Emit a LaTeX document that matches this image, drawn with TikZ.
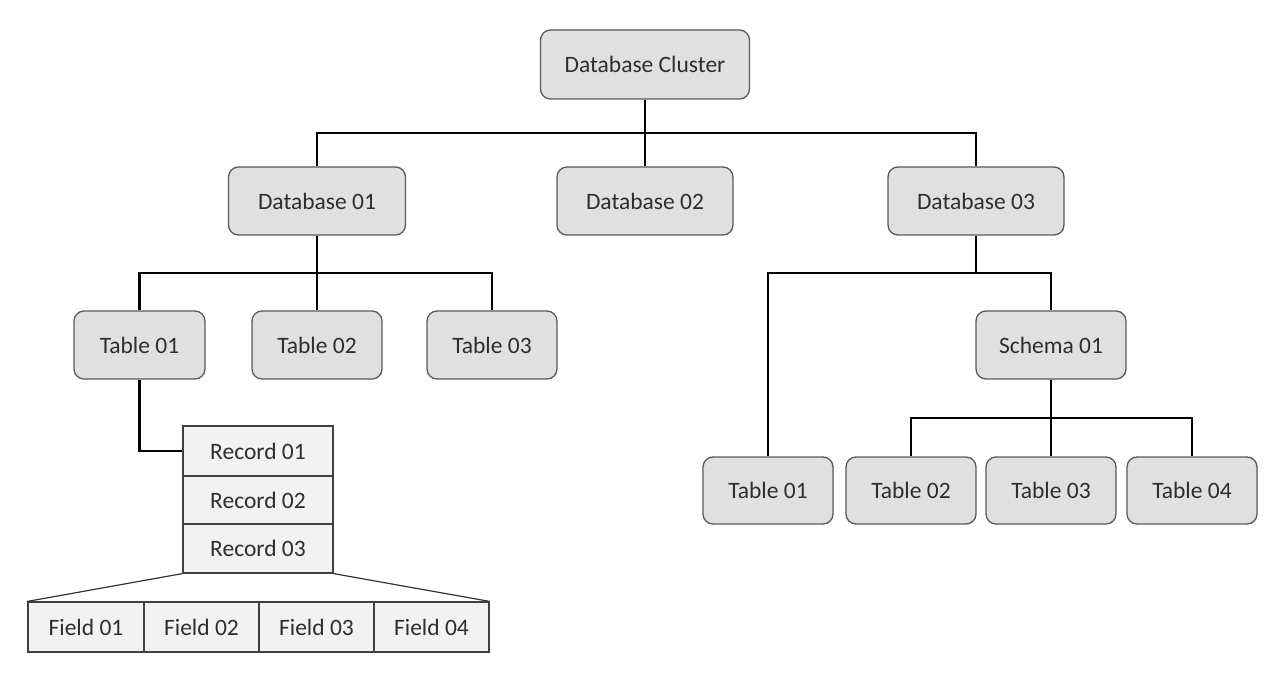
\documentclass[tikz,border=0pt]{standalone}
\usepackage{fontspec}
\setmainfont{Carlito}
\begin{document}
\begin{tikzpicture}[x=1pt,y=-1pt,
  rbox/.style={draw=black!65,line width=1.3pt,fill=black!12,rounded corners=10pt,inner sep=0pt,font=\fontsize{23.5}{26}\selectfont,text=black!82},
  cell/.style={draw=black!75,line width=1.2pt,fill=black!5,inner sep=0pt,font=\fontsize{23.5}{26}\selectfont,text=black!82},
  conn/.style={line width=2.8pt,black},
  thin/.style={line width=1.2pt,black!80}]
\useasboundingbox (0,0) rectangle (1280,674);
% nodes
\node[rbox,minimum width=209pt,minimum height=69pt] (dc) at (645,64.5) {Database Cluster};
\node[rbox,minimum width=177pt,minimum height=68pt] (db1) at (317,201) {Database 01};
\node[rbox,minimum width=176pt,minimum height=68pt] (db2) at (645,201) {Database 02};
\node[rbox,minimum width=176pt,minimum height=68pt] (db3) at (976,201) {Database 03};
\node[rbox,minimum width=131pt,minimum height=68pt] (t1) at (139.5,345) {Table 01};
\node[rbox,minimum width=130pt,minimum height=68pt] (t2) at (317,345) {Table 02};
\node[rbox,minimum width=130pt,minimum height=68pt] (t3) at (492,345) {Table 03};
\node[rbox,minimum width=150pt,minimum height=68pt] (s1) at (1051,345) {Schema 01};
\node[rbox,minimum width=130pt,minimum height=67pt] (r1) at (768,490.5) {Table 01};
\node[rbox,minimum width=130pt,minimum height=67pt] (r2) at (911,490.5) {Table 02};
\node[rbox,minimum width=130pt,minimum height=67pt] (r3) at (1051,490.5) {Table 03};
\node[rbox,minimum width=130pt,minimum height=67pt] (r4) at (1192,490.5) {Table 04};
% records
\node[cell,minimum width=150pt,minimum height=50pt] (rec1) at (258,451) {Record 01};
\node[cell,minimum width=150pt,minimum height=48pt] (rec2) at (258,500) {Record 02};
\node[cell,minimum width=150pt,minimum height=49pt] (rec3) at (258,548.5) {Record 03};
% fields
\node[cell,minimum width=116pt,minimum height=50pt] (f1) at (86,627) {Field 01};
\node[cell,minimum width=115pt,minimum height=50pt] (f2) at (201.5,627) {Field 02};
\node[cell,minimum width=115pt,minimum height=50pt] (f3) at (316.5,627) {Field 03};
\node[cell,minimum width=115pt,minimum height=50pt] (f4) at (431.5,627) {Field 04};
% connectors
\coordinate (b0) at (645,133);
\coordinate (b1) at (317,273);
\coordinate (b2) at (976,273);
\coordinate (b3) at (1051,418);
\draw[conn] (dc.south) -- (b0);
\draw[conn] (db1.north) |- (b0) -| (db3.north);
\draw[conn] (db2.north) -- (b0);
\draw[conn] (db1.south) -- (b1);
\draw[conn] (t1.north) |- (b1) -| (t3.north);
\draw[conn] (t2.north) -- (b1);
\draw[conn] (t1.south) |- (rec1.west);
\draw[conn] (db3.south) -- (b2);
\draw[conn] (r1.north) |- (b2) -| (s1.north);
\draw[conn] (s1.south) -- (b3);
\draw[conn] (r2.north) |- (b3) -| (r4.north);
\draw[conn] (r3.north) -- (b3);
\draw[thin] (rec3.south west) -- (f1.north west);
\draw[thin] (rec3.south east) -- (f4.north east);
\end{tikzpicture}
\end{document}
